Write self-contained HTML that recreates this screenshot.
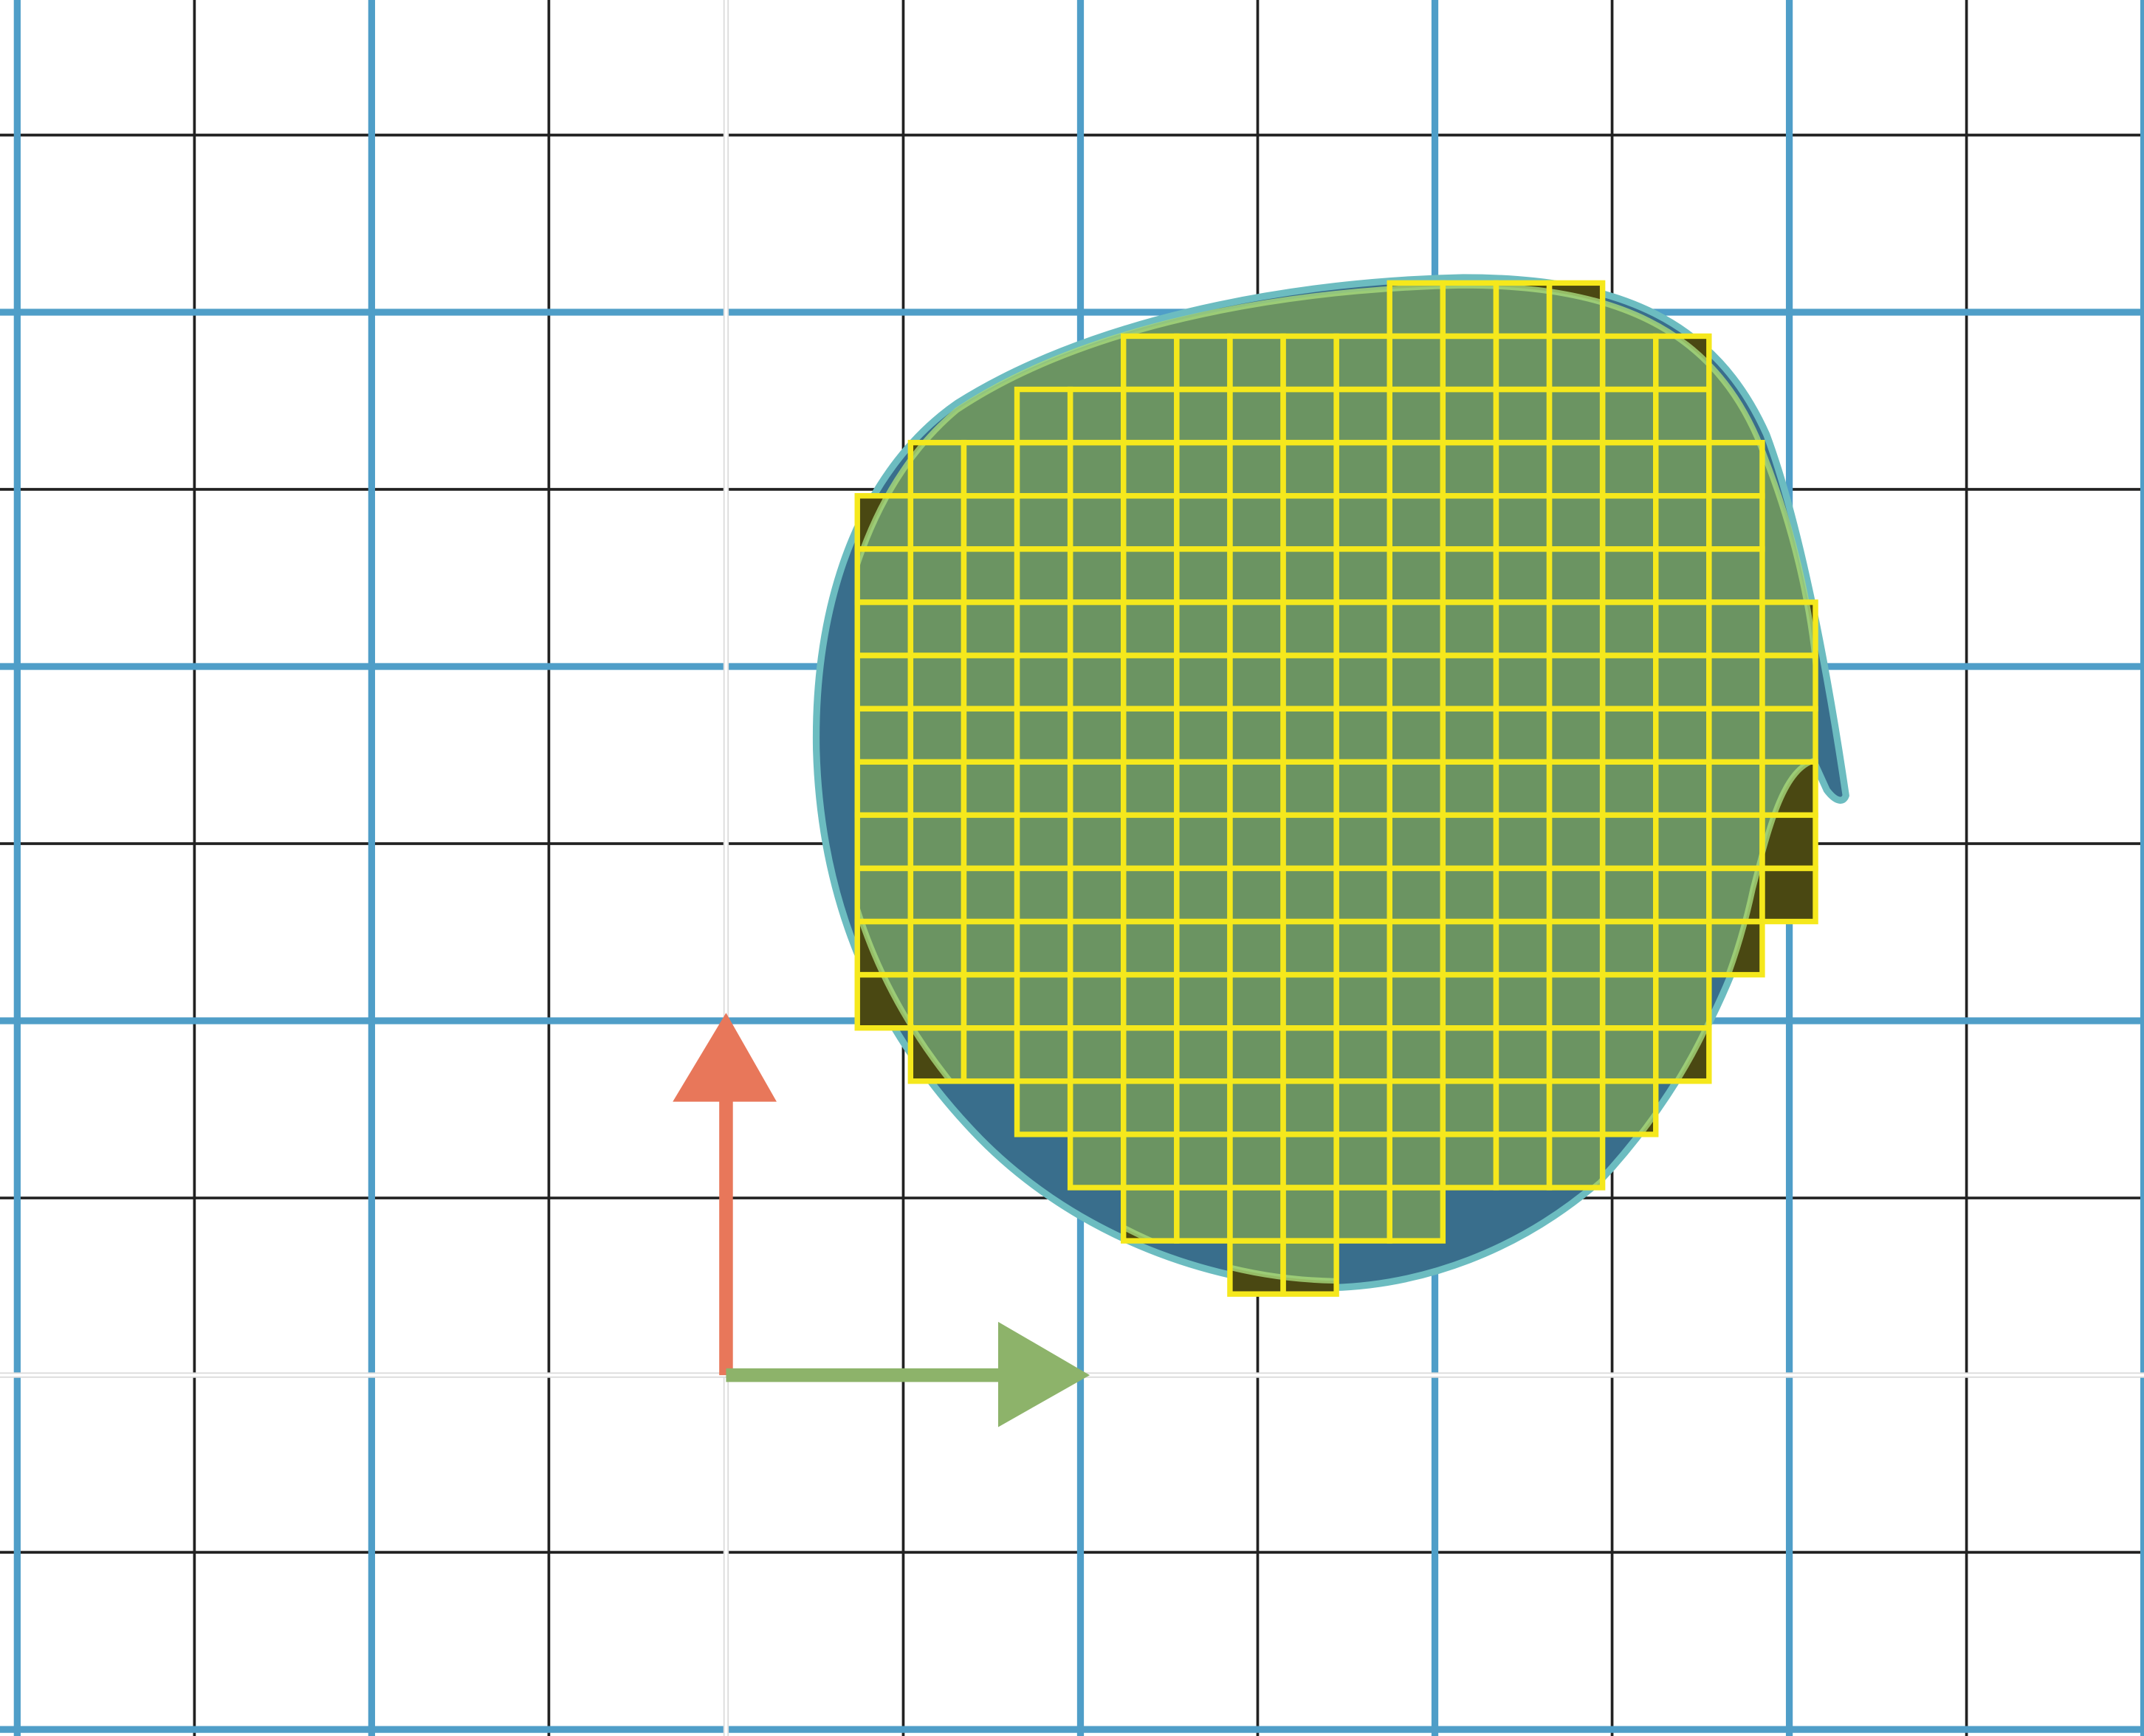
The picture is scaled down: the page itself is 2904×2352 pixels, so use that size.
<!DOCTYPE html>
<html><head><meta charset="utf-8"><style>
html,body{margin:0;padding:0;background:#fff;}
svg{display:block;}
</style></head><body>
<svg id="chart" xmlns="http://www.w3.org/2000/svg" width="2904" height="2352" viewBox="0 0 1568 1270" preserveAspectRatio="none">
<defs><clipPath id="cellClip"><rect x="627" y="0" width="941" height="480"/></clipPath></defs>
<rect x="0" y="0" width="1568" height="1270" fill="#ffffff"/>
<g id="minor"></g>
<g id="major"></g>
<g id="axes"></g>
<path fill="#396e8c" stroke="#6cbcc0" stroke-width="5" stroke-linejoin="round"
d="M1070,203 C1185,203 1255,235 1292,318 C1315,380 1335,480 1350,582 C1348,588 1342,586 1336,578 L1326,556 C1310,565 1300,600 1290,640 C1270,720 1230,800 1170,864 C1110,916 1040,940 975,942 C880,940 780,900 712,828 C640,752 600,660 597,548 C595,430 635,340 700,295 C790,238 930,206 1070,203 Z"/>
<g id="cellsBg"></g>
<path clip-path="url(#cellClip)" fill="#6b9462" stroke="#a8d97c" stroke-opacity="0.8" stroke-width="4"
d="M1070,209 C1180,209 1250,240 1285,320 C1310,380 1328,450 1330,520 L1328,556 C1305,562 1295,600 1282,650 C1265,730 1230,800 1170,865 C1110,915 1045,935 975,937 C880,935 790,895 720,820 C650,745 612,660 608,550 C606,440 640,350 700,300 C790,240 930,212 1070,209 Z"/>
<g id="cells"></g>
<g id="arrows">
<polygon fill="#e8775a" points="526,1006 526,806 492,806 531,741 568,806 536,806 536,1006"/>
<polygon fill="#8db36a" points="531,1001 730,1001 730,967 797,1006 730,1044 730,1011 531,1011"/>
</g>
</svg>
<script>
// grid definition (display units)
const gridOrigin = [531, 1006];
const unit = 129.6;
const majorXs = [-4, -2, 2, 4, 6, 8];
const majorYs = [6, 4, 2, -2];
const minorXs = [-3, -1, 1, 3, 5, 7];
const minorYs = [7, 5, 3, 1, -1];
// raster cells: per row, start column (inclusive) and end column (exclusive)
const rowStart = [10,5,3,1,0,0,0,0,0,0,0,0,0,0,1,3,4,5,7];
const rowEnd   = [14,16,16,17,17,17,18,18,18,18,18,18,17,16,16,15,14,11,9];
const cellOrigin = [627, 207];
const cellSize = 38.93;

const NS = 'http://www.w3.org/2000/svg';
function sx(u){return gridOrigin[0] + u*unit;}
function sy(u){return gridOrigin[1] - u*unit;}
function line(g,x1,y1,x2,y2,c,w){
  const l=document.createElementNS(NS,'line');
  l.setAttribute('x1',x1);l.setAttribute('y1',y1);l.setAttribute('x2',x2);l.setAttribute('y2',y2);
  l.setAttribute('stroke',c);l.setAttribute('stroke-width',w);
  g.appendChild(l);return l;
}
const minor=document.getElementById('minor');
minorXs.forEach(v=>{const l=line(minor,sx(v),0,sx(v),1270,'#222',2);

});
minorYs.forEach(v=>{const l=line(minor,0,sy(v),1568,sy(v),'#222',2);

});
const major=document.getElementById('major');
majorXs.forEach(v=>{const l=line(major,sx(v),0,sx(v),1270,'#4f9ec8',5);

});
majorYs.forEach(v=>{const l=line(major,0,sy(v),1568,sy(v),'#4f9ec8',5);

});
const axes=document.getElementById('axes');
let a1=line(axes,sx(0),0,sx(0),1270,'#dcdcdc',4);


let a1b=line(axes,sx(0),0,sx(0),1270,'#ffffff',2);


let a2=line(axes,0,sy(0),1568,sy(0),'#dcdcdc',4);


let a2b=line(axes,0,sy(0),1568,sy(0),'#ffffff',2);



const bg=document.getElementById('cellsBg');
const cells=document.getElementById('cells');
const clip=document.getElementById('cellClip');
rowStart.forEach((s,j)=>{
  const e=rowEnd[j];
  const cr=document.createElementNS(NS,'rect');
  cr.setAttribute('x',cellOrigin[0]+s*cellSize);cr.setAttribute('y',cellOrigin[1]+j*cellSize);
  cr.setAttribute('width',(e-s)*cellSize);cr.setAttribute('height',cellSize);
  clip.appendChild(cr);
  for(let i=s;i<e;i++){
    const x=cellOrigin[0]+i*cellSize, y=cellOrigin[1]+j*cellSize;
    const r=document.createElementNS(NS,'rect');
    r.setAttribute('x',x);r.setAttribute('y',y);r.setAttribute('width',cellSize);r.setAttribute('height',cellSize);
    r.setAttribute('fill','#4a4812');
    
    
    bg.appendChild(r);
    const c=document.createElementNS(NS,'rect');
    c.setAttribute('x',x);c.setAttribute('y',y);c.setAttribute('width',cellSize);c.setAttribute('height',cellSize);
    c.setAttribute('fill','none');c.setAttribute('stroke','#f5e81c');c.setAttribute('stroke-width','4');
    
    
    cells.appendChild(c);
  }
});
</script>
</body></html>
